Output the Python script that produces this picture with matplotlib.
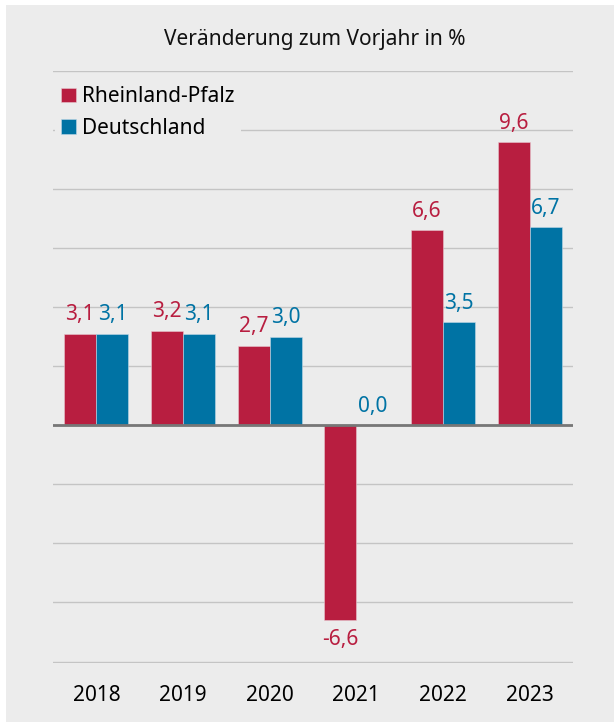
import matplotlib
matplotlib.use("Agg")
import matplotlib.pyplot as plt
from matplotlib.patches import Rectangle
import numpy as np

years = ["2018", "2019", "2020", "2021", "2022", "2023"]
rp = [3.1, 3.2, 2.7, -6.6, 6.6, 9.6]
de = [3.1, 3.1, 3.0, 0.0, 3.5, 6.7]
series_names = ["Rheinland-Pfalz", "Deutschland"]
title = "Veränderung zum Vorjahr in %"

RED = "#b81e40"
BLUE = "#0073a4"
BG = "#ececec"

plt.rcParams['font.family'] = ['Noto Sans', 'DejaVu Sans']

fig = plt.figure(figsize=(6.14, 7.22), dpi=100)
fig.patch.set_facecolor("white")
fig.patches.append(Rectangle((6/614, 0), 1 - 6/614, 1 - 5/722, transform=fig.transFigure,
                             facecolor=BG, edgecolor="none", zorder=-10))

ax = fig.add_axes([53/614, 1 - 663/722, 520/614, 592/722])
ax.set_facecolor(BG)
ax.patch.set_alpha(0)

x = np.arange(len(years))
w = 0.37
ax.bar(x - w/2, rp, w, color=RED, edgecolor="#e8c8d0", linewidth=0.4, label=series_names[0], zorder=3)
ax.bar(x + w/2, de, w, color=BLUE, edgecolor="#c0d8e6", linewidth=0.4, label=series_names[1], zorder=3)

def fmt(v):
    return f"{v:.1f}".replace(".", ",")

for xs, vals, col in [(x - w/2, rp, RED), (x + w/2, de, BLUE)]:
    for xi, v in zip(xs, vals):
        if v >= 0:
            ax.annotate(fmt(v), (xi, v), xytext=(0, 6), textcoords="offset points",
                        ha="center", va="bottom", color=col, fontsize=15)
        else:
            ax.annotate(fmt(v), (xi, v), xytext=(0, -6), textcoords="offset points",
                        ha="center", va="top", color=col, fontsize=15)

ax.set_ylim(-8.05, 12.0)
ax.set_xlim(-0.5, len(years) - 0.5)
ax.set_yticks(np.arange(-8, 13, 2))
ax.yaxis.grid(True, color="#c4c4c4", linewidth=1, zorder=0)
ax.set_axisbelow(True)
ax.axhline(0, color="#777777", linewidth=2, zorder=4)
ax.tick_params(axis="y", left=False, labelleft=False)
ax.tick_params(axis="x", bottom=False, labelsize=15, pad=12)
ax.set_xticks(x)
ax.set_xticklabels(years)
for s in ax.spines.values():
    s.set_visible(False)

leg = ax.legend(loc="upper left", bbox_to_anchor=(-0.008, 0.995), frameon=True, fontsize=15,
                handlelength=0.7, handleheight=0.7, handletextpad=0.3, labelspacing=0.5,
                borderpad=0.3, borderaxespad=0.3)
leg.get_frame().set_facecolor(BG)
leg.get_frame().set_edgecolor("none")
leg.get_frame().set_alpha(1)

fig.text(0.512, 1 - 40/722, title, ha="center", va="center", fontsize=15, color="#111111")

fig.savefig("out.png", dpi=100, facecolor=fig.get_facecolor())
